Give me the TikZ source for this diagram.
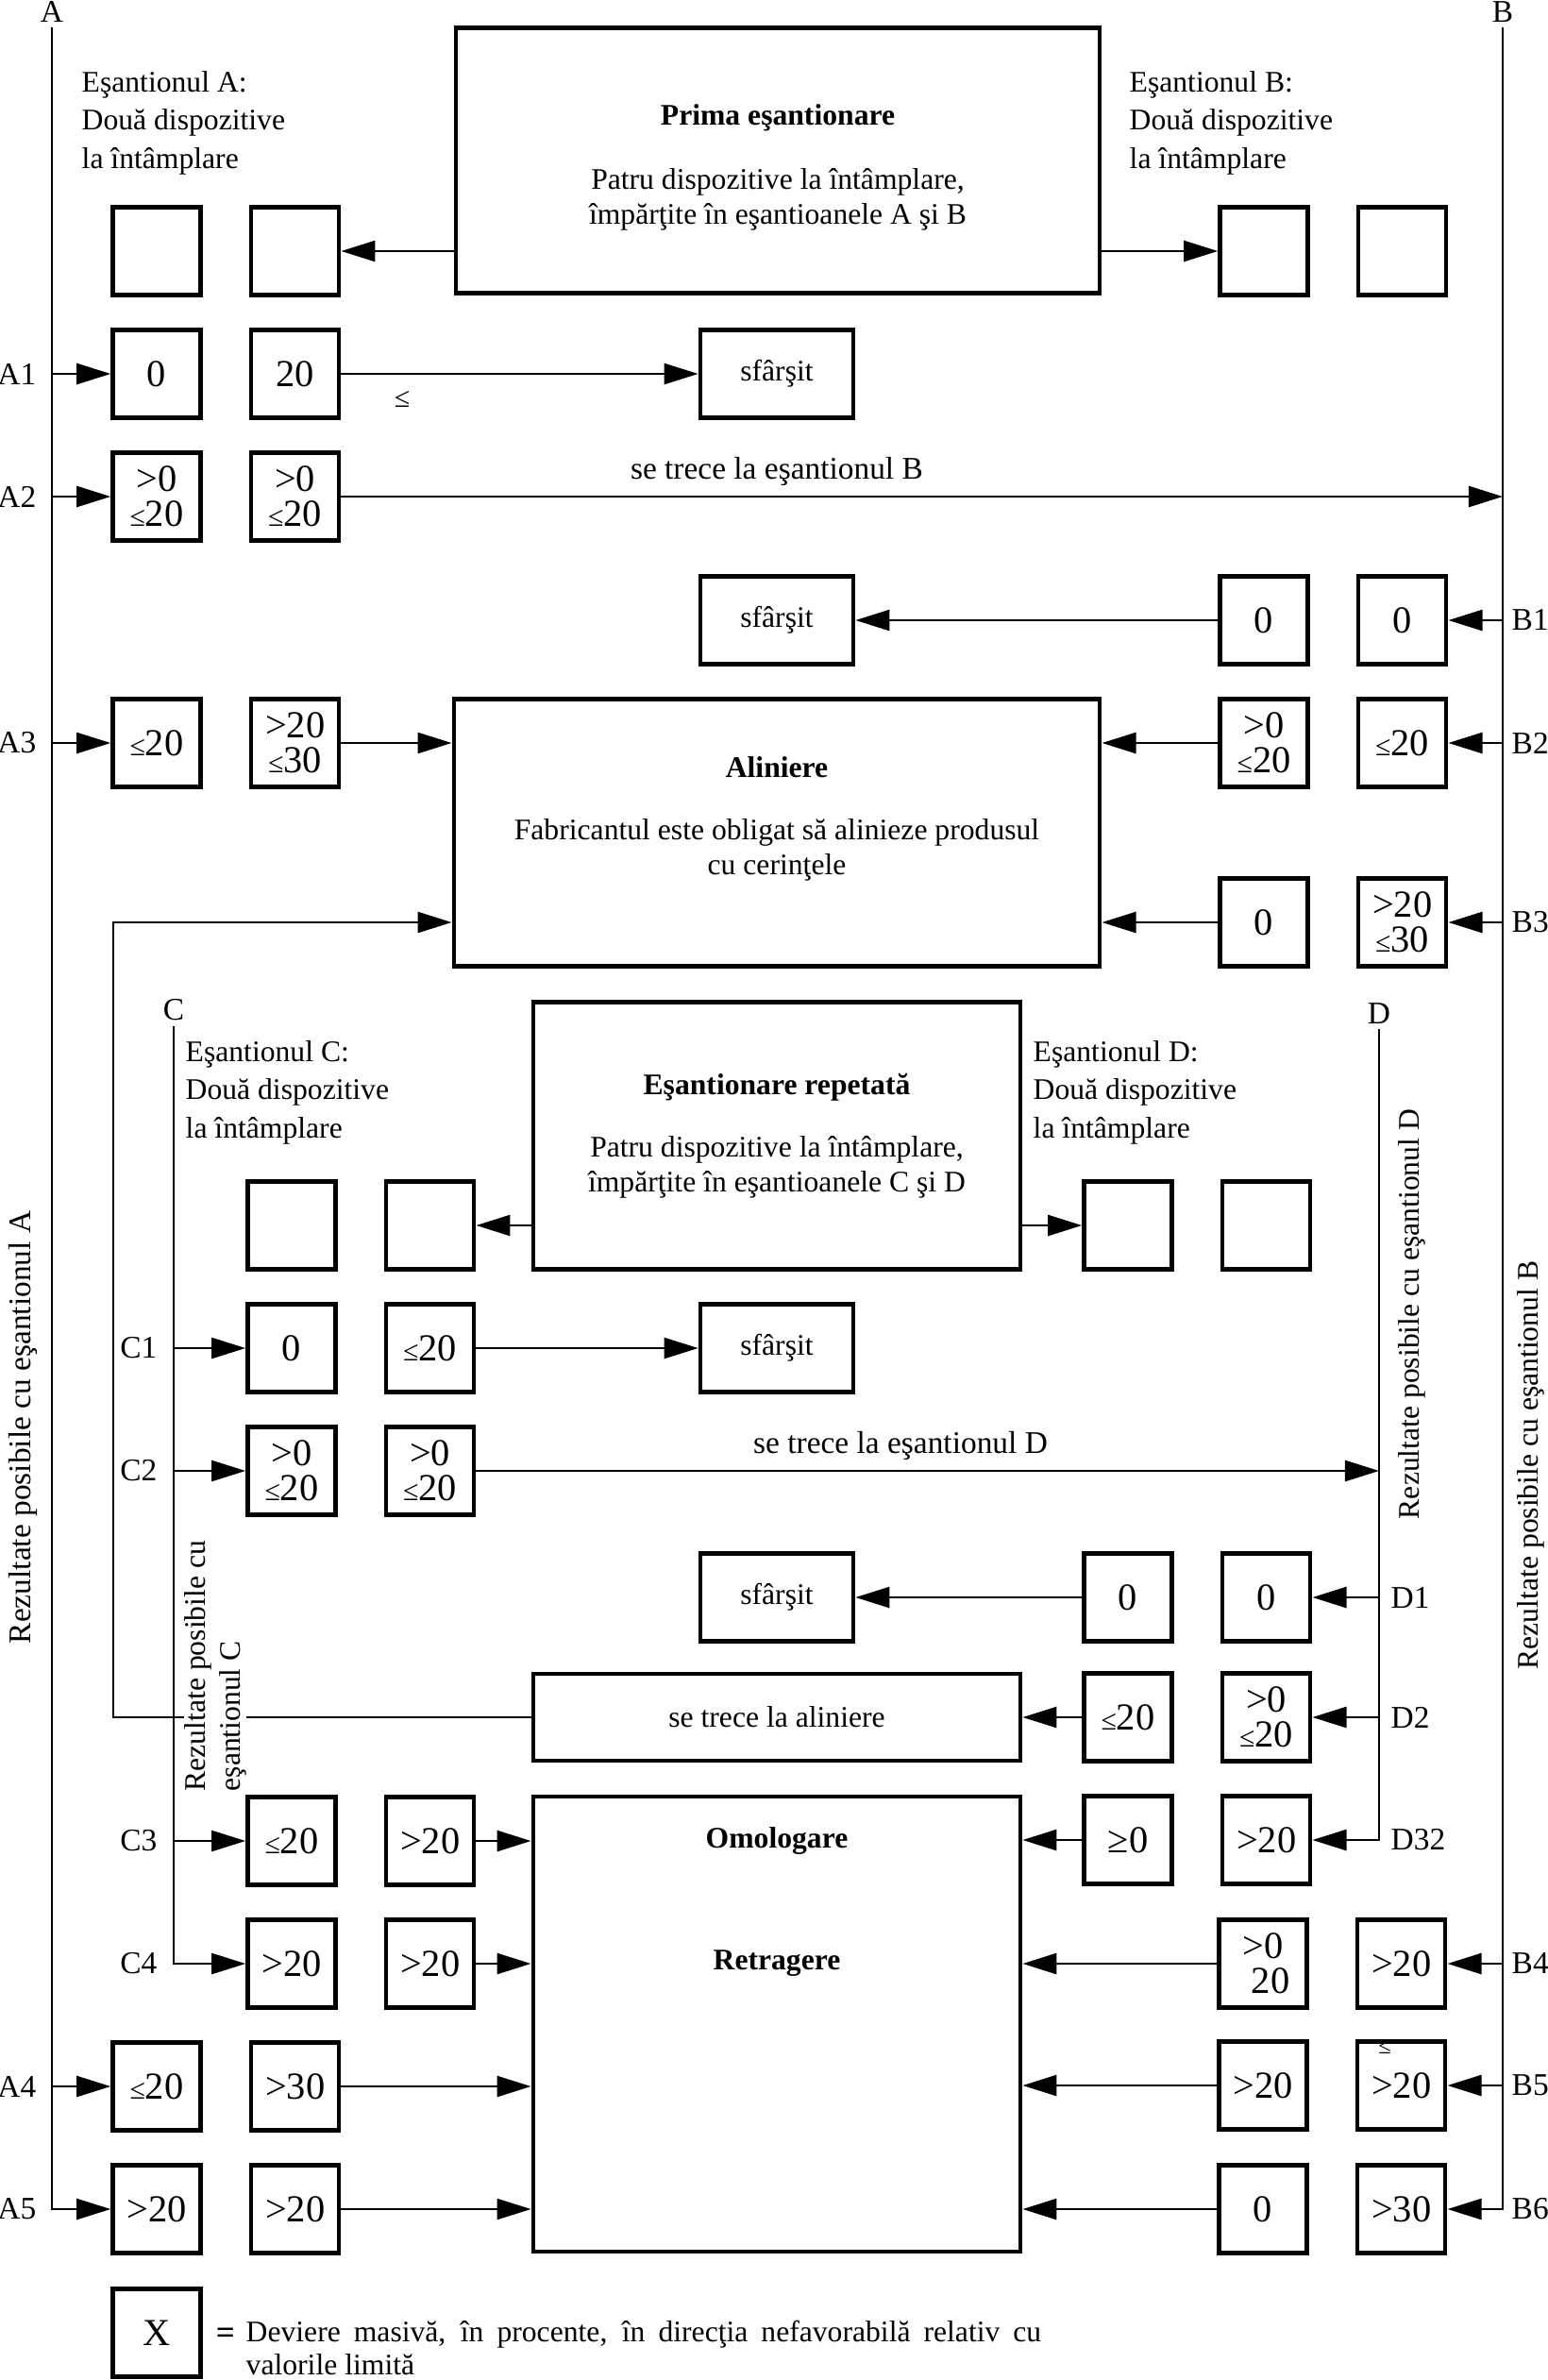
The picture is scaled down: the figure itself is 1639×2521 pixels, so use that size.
\documentclass[tikz,border=0pt]{standalone}
\usepackage{fontspec}
\setmainfont{Liberation Serif}
\usepackage{tikz}
\usetikzlibrary{positioning, arrows.meta, calc}

\newcommand{\smle}{{\fontsize{8.5}{8.5}\selectfont ≤}}

\begin{document}
\begin{tikzpicture}[
  x=0.01cm, y=-0.01cm,
  node distance=0.49cm and 0.49cm,
  cell/.style={
    rectangle,
    draw,
    line width=1.3pt,
    minimum width=0.93cm,
    minimum height=0.93cm,
    inner sep=0pt,
    align=center,
    font=\fontsize{11.5}{10.5}\selectfont
  },
  endbox/.style={cell, minimum width=1.62cm, font=\fontsize{9}{11}\selectfont},
  bigbox/.style={
    rectangle,
    draw,
    line width=1.3pt,
    inner sep=0pt,
    align=center,
    font=\fontsize{9}{10.5}\selectfont
  },
  boxtext/.style={inner sep=0pt, align=center, font=\fontsize{9}{10.5}\selectfont},
  title/.style={inner sep=0pt, font=\fontsize{9}{11}\selectfont\bfseries},
  note/.style={align=left, inner sep=0pt, font=\fontsize{9}{11.4}\selectfont},
  tag/.style={inner sep=0pt, font=\fontsize{9.5}{11}\selectfont},
  side/.style={rotate=90, inner sep=0pt, font=\fontsize{9}{10.5}\selectfont},
  wire/.style={line width=0.7pt},
  arrow/.style={-{Triangle[length=3.6mm, width=2.2mm]}, line width=0.7pt}
]
  \useasboundingbox (0,0) rectangle (1639,2521);

  % Main blocks
  \node (prima) [bigbox, minimum width=6.82cm, minimum height=2.81cm] at (824,170) {};
  \node [boxtext] at ($(prima)+(0,7)$)
    {\textbf{Prima eşantionare}\\[0.31cm]Patru dispozitive la întâmplare,\\împărţite în eşantioanele A şi B};
  \node (alin) [bigbox, minimum width=6.84cm, minimum height=2.83cm] at (823,882) {};
  \node [boxtext] at ($(alin)+(0,-15)$)
    {\textbf{Aliniere}\\[0.29cm]Fabricantul este obligat să alinieze produsul\\cu cerinţele};
  \node (rep) [bigbox, minimum width=5.16cm, minimum height=2.83cm] at (823,1203)
    {\textbf{Eşantionare repetată}\\[0.29cm]Patru dispozitive la întâmplare,\\împărţite în eşantioanele C şi D};
  \node (setal) [bigbox, minimum width=5.16cm, minimum height=0.92cm] at (823,1819) {se trece la aliniere};
  \node (omol) [bigbox, minimum width=5.16cm, minimum height=4.82cm] at (823,2144) {};

  \node (endA) [endbox] at (823,396) {sfârşit};
  \node (endB) [endbox] at (823,657) {sfârşit};
  \node (endC) [endbox] at (823,1428) {sfârşit};
  \node (endD) [endbox] at (823,1692) {sfârşit};

  % Sample lines
  \coordinate (Atop) at (55,29);
  \coordinate (Btop) at (1592,29);
  \coordinate (Ctop) at (184,1087);
  \coordinate (Dtop) at (1461,1090);
  \coordinate (loop) at (120,977);

  % Sample A
  \node (a0a) [cell] at (166,266) {};
  \node (a0b) [cell, right=of a0a] {};
  \node (a1a) [cell] at (166,396) {0};
  \node (a1b) [cell, right=of a1a] {20};
  \node (a2a) [cell] at (166,526) {>0\\\smle20};
  \node (a2b) [cell, right=of a2a] {>0\\\smle20};
  \node (a3a) [cell] at (166,787) {\smle20};
  \node (a3b) [cell, right=of a3a] {>20\\\smle30};
  \node (a4a) [cell] at (166,2210) {\smle20};
  \node (a4b) [cell, right=of a4a] {>30};
  \node (a5a) [cell] at (166,2340) {>20};
  \node (a5b) [cell, right=of a5a] {>20};

  % Sample B
  \node (b0a) [cell] at (1339,266) {};
  \node (b0b) [cell, right=of b0a] {};
  \node (b1a) [cell] at (1339,657) {0};
  \node (b1b) [cell, right=of b1a] {0};
  \node (b2a) [cell] at (1339,787) {>0\\\smle20};
  \node (b2b) [cell, right=of b2a] {\smle20};
  \node (b3a) [cell] at (1339,977) {0};
  \node (b3b) [cell, right=of b3a] {>20\\\smle30};
  \node (b4a) [cell] at (1338,2080) {>0\\\phantom{\smle}20};
  \node (b4b) [cell, right=of b4a] {>20};
  \node (b5a) [cell] at (1338,2209) {>20};
  \node (b5b) [cell, right=of b5a] {>20};
  \node (b6a) [cell] at (1338,2340) {0};
  \node (b6b) [cell, right=of b6a] {>30};

  % Sample C
  \node (c0a) [cell] at (309,1298) {};
  \node (c0b) [cell, right=of c0a] {};
  \node (c1a) [cell] at (309,1428) {0};
  \node (c1b) [cell, right=of c1a] {\smle20};
  \node (c2a) [cell] at (309,1558) {>0\\\smle20};
  \node (c2b) [cell, right=of c2a] {>0\\\smle20};
  \node (c3a) [cell] at (309,1950) {\smle20};
  \node (c3b) [cell, right=of c3a] {>20};
  \node (c4a) [cell] at (309,2080) {>20};
  \node (c4b) [cell, right=of c4a] {>20};

  % Sample D
  \node (d0a) [cell] at (1195,1298) {};
  \node (d0b) [cell, right=of d0a] {};
  \node (d1a) [cell] at (1195,1692) {0};
  \node (d1b) [cell, right=of d1a] {0};
  \node (d2a) [cell] at (1195,1819) {\smle20};
  \node (d2b) [cell, right=of d2a] {>0\\\smle20};
  \node (d3a) [cell] at (1195,1949) {≥0};
  \node (d3b) [cell, right=of d3a] {>20};

  % Texts
  \node [note, anchor=base west] at (86,178) {Eşantionul A:\\Două dispozitive\\la întâmplare};
  \node [note, anchor=base west] at (1196,178) {Eşantionul B:\\Două dispozitive\\la întâmplare};
  \node [note, anchor=base west] at (196,1205) {Eşantionul C:\\Două dispozitive\\la întâmplare};
  \node [note, anchor=base west] at (1094,1205) {Eşantionul D:\\Două dispozitive\\la întâmplare};
  \node [title] at (omol.north |- c3a) {Omologare};
  \node [title] at (omol.north |- c4a) {Retragere};

  \node [tag, above=0.05cm] at (Atop) {A};
  \node [tag, above=0.05cm] at (Btop) {B};
  \node [tag, above=0.05cm] at (Ctop) {C};
  \node [tag, above=0.05cm] at (Dtop) {D};

  % Arrows
  \draw [arrow] (prima.west |- a0b) -- (a0b);
  \draw [arrow] (prima.east |- b0a) -- (b0a);
  \draw [arrow] (rep.west |- c0b) -- (c0b);
  \draw [arrow] (rep.east |- d0a) -- (d0a);

  \draw [arrow] (Atop) |- (a5a);
  \draw [arrow] (Btop) |- (b6b);
  \draw [arrow] (Ctop) |- (c4a);
  \draw [arrow] (Dtop) |- (d3b);

  \draw [arrow] (a1a -| Atop) -- (a1a);
  \draw [arrow] (a1b) -- (a1b -| endA.west);
  \draw [arrow] (a2a -| Atop) -- (a2a);
  \draw [arrow] (a2b) -- node [tag, pos=0.375, above=0.1cm] {se trece la eşantionul B} (a2b -| Btop);
  \draw [arrow] (b1b -| Btop) -- (b1b);
  \draw [arrow] (b1a) -- (b1a -| endB.east);
  \draw [arrow] (a3a -| Atop) -- (a3a);
  \draw [arrow] (a3b) -- (a3b -| alin.west);
  \draw [arrow] (b2b -| Btop) -- (b2b);
  \draw [arrow] (b2a) -- (b2a -| alin.east);
  \draw [arrow] (b3b -| Btop) -- (b3b);
  \draw [arrow] (b3a) -- (b3a -| alin.east);
  \draw [arrow] (setal) -| (loop) -- (loop -| alin.west);

  \draw [arrow] (c1a -| Ctop) -- (c1a);
  \draw [arrow] (c1b) -- (c1b -| endC.west);
  \draw [arrow] (c2a -| Ctop) -- (c2a);
  \draw [arrow] (c2b) -- node [tag, pos=0.47, above=0.1cm] {se trece la eşantionul D} (c2b -| Dtop);
  \draw [arrow] (d1b -| Dtop) -- (d1b);
  \draw [arrow] (d1a) -- (d1a -| endD.east);
  \draw [arrow] (d2b -| Dtop) -- (d2b);
  \draw [arrow] (d2a) -- (d2a -| setal.east);
  \draw [arrow] (d3a) -- (d3a -| omol.east);
  \draw [arrow] (c3a -| Ctop) -- (c3a);
  \draw [arrow] (c3b) -- (c3b -| omol.west);
  \draw [arrow] (c4b) -- (c4b -| omol.west);

  \draw [arrow] (b4b -| Btop) -- (b4b);
  \draw [arrow] (b4a) -- (b4a -| omol.east);
  \draw [arrow] (a4a -| Atop) -- (a4a);
  \draw [arrow] (a4b) -- (a4b -| omol.west);
  \draw [arrow] (b5b -| Btop) -- (b5b);
  \draw [arrow] (b5a) -- (b5a -| omol.east);
  \draw [arrow] (a5b) -- (a5b -| omol.west);
  \draw [arrow] (b6a) -- (b6a -| omol.east);

  % Row labels
  \node [tag, left=0.16cm] at (a1a -| Atop) {A1};
  \node [tag, left=0.16cm] at (a2a -| Atop) {A2};
  \node [tag, left=0.16cm] at (a3a -| Atop) {A3};
  \node [tag, left=0.16cm] at (a4a -| Atop) {A4};
  \node [tag, left=0.16cm] at (a5a -| Atop) {A5};
  \node [tag, right=0.09cm] at (b1b -| Btop) {B1};
  \node [tag, right=0.09cm] at (b2b -| Btop) {B2};
  \node [tag, right=0.09cm] at (b3b -| Btop) {B3};
  \node [tag, right=0.09cm] at (b4b -| Btop) {B4};
  \node [tag, right=0.09cm] at (b5b -| Btop) {B5};
  \node [tag, right=0.09cm] at (b6b -| Btop) {B6};
  \node [tag, left=0.17cm] at (c1a -| Ctop) {C1};
  \node [tag, left=0.17cm] at (c2a -| Ctop) {C2};
  \node [tag, left=0.17cm] at (c3a -| Ctop) {C3};
  \node [tag, left=0.17cm] at (c4a -| Ctop) {C4};
  \node [tag, right=0.12cm] at (d1b -| Dtop) {D1};
  \node [tag, right=0.12cm] at (d2b -| Dtop) {D2};
  \node [tag, right=0.12cm] at (d3b -| Dtop) {D32};

  \node [tag, font=\fontsize{8.5}{8.5}\selectfont] at (426,423) {≤};
  \node [tag, font=\fontsize{7}{7}\selectfont] at (1467,2168) {≤};

  % Side texts
  \node [side, font=\fontsize{9.5}{11}\selectfont] at (24,1512) {Rezultate posibile cu eşantionul A};
  \node [side] at (1622,1552) {Rezultate posibile cu eşantionul B};
  \node [side] at (1496,1392) {Rezultate posibile cu eşantionul D};
  \node [side, align=left, anchor=west, fill=white] at (228,1898) {Rezultate posibile cu\\eşantionul C};

  % Key
  \node (key) [cell] at (166,2471) {X};
  \node [tag, font=\fontsize{10}{10}\selectfont\bfseries] at (239,2474) {=};
  \node [note, text width=8.42cm, align=justify, anchor=base west, font=\fontsize{9}{10}\selectfont] at (260,2480)
    {Deviere masivă, în procente, în direcţia nefavorabilă relativ cu\linebreak valorile limită};

\end{tikzpicture}
\end{document}
